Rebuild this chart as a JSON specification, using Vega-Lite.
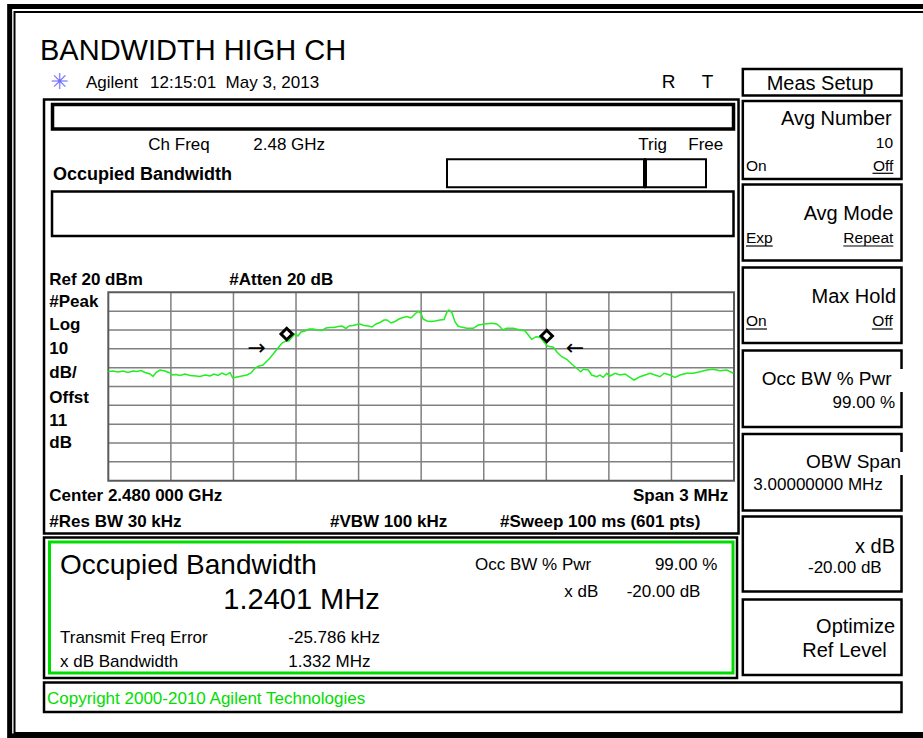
{
  "$schema": "https://vega.github.io/schema/vega-lite/v6.json",
  "width": 923,
  "height": 738,
  "autosize": {"type": "none"},
  "padding": 0,
  "background": "white",
  "config": {"view": {"stroke": null}, "text": {"font": "Liberation Sans", "baseline": "alphabetic", "fill": "black"}},
  "encoding": {
    "x": {"field": "x", "type": "quantitative", "scale": {"domain": [-2.0193, 2.4061], "nice": false, "zero": false}, "axis": null},
    "y": {"field": "y", "type": "quantitative", "scale": {"domain": [-216.57, 175.152], "nice": false, "zero": false}, "axis": null}
  },
  "layer": [
    {
      "data": {"values": [{"x": -1.973, "y": 171.7, "x2": 2.44, "y2": -215.51}]},
      "mark": {"type": "rect", "fill": "transparent", "stroke": "black", "strokeWidth": 5},
      "encoding": {"x2": {"field": "x2"}, "y2": {"field": "y2"}}
    },
    {
      "data": {"values": [{"x": -1.9497, "y": 168.78, "x2": 2.44, "y2": -213.92}]},
      "mark": {"type": "rect", "fill": "transparent", "stroke": "black", "strokeWidth": 2},
      "encoding": {"x2": {"field": "x2"}, "y2": {"field": "y2"}}
    },
    {
      "data": {"values": [
        {"x": -1.2, "x2": -1.2, "y": -80, "y2": 20},
        {"x": -0.9, "x2": -0.9, "y": -80, "y2": 20},
        {"x": -0.6, "x2": -0.6, "y": -80, "y2": 20},
        {"x": -0.3, "x2": -0.3, "y": -80, "y2": 20},
        {"x": 0, "x2": 0, "y": -80, "y2": 20},
        {"x": 0.3, "x2": 0.3, "y": -80, "y2": 20},
        {"x": 0.6, "x2": 0.6, "y": -80, "y2": 20},
        {"x": 0.9, "x2": 0.9, "y": -80, "y2": 20},
        {"x": 1.2, "x2": 1.2, "y": -80, "y2": 20},
        {"x": -1.5, "x2": 1.5, "y": 10, "y2": 10},
        {"x": -1.5, "x2": 1.5, "y": 0, "y2": 0},
        {"x": -1.5, "x2": 1.5, "y": -10, "y2": -10},
        {"x": -1.5, "x2": 1.5, "y": -20, "y2": -20},
        {"x": -1.5, "x2": 1.5, "y": -30, "y2": -30},
        {"x": -1.5, "x2": 1.5, "y": -40, "y2": -40},
        {"x": -1.5, "x2": 1.5, "y": -50, "y2": -50},
        {"x": -1.5, "x2": 1.5, "y": -60, "y2": -60},
        {"x": -1.5, "x2": 1.5, "y": -70, "y2": -70}
      ]},
      "mark": {"type": "rule", "stroke": "#808080", "strokeWidth": 1.5},
      "encoding": {"x2": {"field": "x2"}, "y2": {"field": "y2"}}
    },
    {
      "data": {"values": [{"x": -1.5, "y": 20, "x2": 1.5, "y2": -80}]},
      "mark": {"type": "rect", "fill": "transparent", "stroke": "#5a5a5a", "strokeWidth": 2},
      "encoding": {"x2": {"field": "x2"}, "y2": {"field": "y2"}}
    },
    {
      "data": {"values": [
        {"x": -1.5, "y": -22.04}, {"x": -1.4775, "y": -21.77}, {"x": -1.4535, "y": -22.3}, {"x": -1.4295, "y": -21.77},
        {"x": -1.4055, "y": -22.57}, {"x": -1.3816, "y": -21.77}, {"x": -1.3624, "y": -22.04}, {"x": -1.3432, "y": -21.51},
        {"x": -1.324, "y": -22.57}, {"x": -1.3001, "y": -23.36}, {"x": -1.2857, "y": -24.69}, {"x": -1.2713, "y": -22.57},
        {"x": -1.2521, "y": -21.24}, {"x": -1.2281, "y": -21.77}, {"x": -1.2042, "y": -22.83}, {"x": -1.1946, "y": -23.9},
        {"x": -1.1754, "y": -23.63}, {"x": -1.1562, "y": -24.16}, {"x": -1.1323, "y": -23.36}, {"x": -1.1083, "y": -24.16},
        {"x": -1.0795, "y": -24.42}, {"x": -1.0603, "y": -24.69}, {"x": -1.0364, "y": -23.9}, {"x": -1.0124, "y": -24.42},
        {"x": -0.9932, "y": -23.36}, {"x": -0.974, "y": -24.16}, {"x": -0.9549, "y": -22.83}, {"x": -0.9357, "y": -23.9},
        {"x": -0.9165, "y": -22.57}, {"x": -0.9036, "y": -25.49}, {"x": -0.8829, "y": -24.96}, {"x": -0.859, "y": -24.42},
        {"x": -0.835, "y": -23.9}, {"x": -0.8158, "y": -22.83}, {"x": -0.7966, "y": -20.18}, {"x": -0.7775, "y": -19.12},
        {"x": -0.7583, "y": -18.59}, {"x": -0.7439, "y": -16.99}, {"x": -0.7247, "y": -14.87}, {"x": -0.7055, "y": -12.22},
        {"x": -0.6864, "y": -9.56}, {"x": -0.6672, "y": -6.91}, {"x": -0.648, "y": -5.85}, {"x": -0.6336, "y": -5.85},
        {"x": -0.6192, "y": -3.72}, {"x": -0.6048, "y": -2.13}, {"x": -0.5905, "y": -3.19}, {"x": -0.5761, "y": -1.07},
        {"x": -0.5569, "y": -0.54}, {"x": -0.5377, "y": 0.52}, {"x": -0.5185, "y": 0.52}, {"x": -0.4946, "y": -0.01},
        {"x": -0.4754, "y": -0.27}, {"x": -0.4562, "y": 1.05}, {"x": -0.437, "y": 1.32}, {"x": -0.4179, "y": 1.32},
        {"x": -0.3987, "y": 1.85}, {"x": -0.3795, "y": 2.11}, {"x": -0.3603, "y": 0.79}, {"x": -0.3459, "y": 2.11},
        {"x": -0.3268, "y": 2.38}, {"x": -0.3076, "y": 2.91}, {"x": -0.2932, "y": 3.17}, {"x": -0.274, "y": 2.38},
        {"x": -0.2548, "y": 2.11}, {"x": -0.2357, "y": 1.58}, {"x": -0.2165, "y": 3.17}, {"x": -0.1973, "y": 3.97},
        {"x": -0.1781, "y": 5.3}, {"x": -0.1637, "y": 5.3}, {"x": -0.1446, "y": 3.7}, {"x": -0.1254, "y": 4.5},
        {"x": -0.1062, "y": 5.83}, {"x": -0.087, "y": 6.62}, {"x": -0.0678, "y": 7.15}, {"x": -0.0487, "y": 6.36},
        {"x": -0.0295, "y": 8.48}, {"x": -0.0151, "y": 9.81}, {"x": -0.0007, "y": 9.01}, {"x": 0.0089, "y": 5.83},
        {"x": 0.028, "y": 4.77}, {"x": 0.0472, "y": 4.5}, {"x": 0.0664, "y": 4.77}, {"x": 0.0904, "y": 5.3},
        {"x": 0.1096, "y": 5.56}, {"x": 0.1239, "y": 9.54}, {"x": 0.1335, "y": 10.61}, {"x": 0.1479, "y": 9.01},
        {"x": 0.1623, "y": 4.24}, {"x": 0.1767, "y": 2.11}, {"x": 0.1863, "y": 1.74}, {"x": 0.2184, "y": 0.89},
        {"x": 0.25, "y": 0.89}, {"x": 0.274, "y": 2.64}, {"x": 0.3061, "y": 3.17}, {"x": 0.3383, "y": 3.55},
        {"x": 0.3622, "y": 3.17}, {"x": 0.3781, "y": 1.74}, {"x": 0.391, "y": -0.01}, {"x": 0.4102, "y": 0.89},
        {"x": 0.4418, "y": 0.89}, {"x": 0.4739, "y": -0.01}, {"x": 0.4979, "y": -0.38}, {"x": 0.5137, "y": -2.66},
        {"x": 0.53, "y": -4.95}, {"x": 0.5507, "y": -3.57}, {"x": 0.5698, "y": -3.88}, {"x": 0.5938, "y": -7.07},
        {"x": 0.6048, "y": -8.5}, {"x": 0.6336, "y": -9.19}, {"x": 0.6499, "y": -11.53}, {"x": 0.6739, "y": -14.18},
        {"x": 0.6979, "y": -15.56}, {"x": 0.7218, "y": -18.06}, {"x": 0.7458, "y": -20.34}, {"x": 0.765, "y": -22.15},
        {"x": 0.7774, "y": -20.87}, {"x": 0.8014, "y": -21.24}, {"x": 0.8177, "y": -23.9}, {"x": 0.8417, "y": -24.8},
        {"x": 0.8575, "y": -23.9}, {"x": 0.8733, "y": -25.12}, {"x": 0.8896, "y": -22.99}, {"x": 0.9055, "y": -24.42},
        {"x": 0.9294, "y": -22.99}, {"x": 0.9534, "y": -23.9}, {"x": 0.9774, "y": -23.36}, {"x": 1.0014, "y": -25.12},
        {"x": 1.0205, "y": -26.55}, {"x": 1.0493, "y": -24.8}, {"x": 1.0733, "y": -23.9}, {"x": 1.0972, "y": -22.99},
        {"x": 1.1212, "y": -23.9}, {"x": 1.1452, "y": -24.8}, {"x": 1.1644, "y": -22.99}, {"x": 1.1931, "y": -23.9},
        {"x": 1.2171, "y": -25.12}, {"x": 1.2411, "y": -23.9}, {"x": 1.2732, "y": -22.99}, {"x": 1.3049, "y": -22.99},
        {"x": 1.337, "y": -22.15}, {"x": 1.3691, "y": -21.24}, {"x": 1.4007, "y": -20.87}, {"x": 1.4329, "y": -21.61},
        {"x": 1.465, "y": -21.24}, {"x": 1.497, "y": -22.99}
      ]},
      "mark": {"type": "line", "color": "#22ee22", "strokeWidth": 1.5}
    },
    {
      "data": {"values": [{"x": -0.6447, "y": -2.13}, {"x": 0.602, "y": -3.19}]},
      "mark": {"type": "point", "shape": "diamond", "filled": true, "fill": "white", "stroke": "black", "strokeWidth": 3, "size": 130, "opacity": 1}
    },
    {
      "data": {"values": [{"x": -0.7885, "y": -9.4, "t": "→"}, {"x": 0.7377, "y": -9.4, "t": "←"}]},
      "mark": {"type": "text", "font": "DejaVu Sans", "fontSize": 22, "baseline": "middle", "align": "center"},
      "encoding": {"text": {"field": "t"}}
    },
    {
      "data": {"values": [
        {"x": -1.8083, "y": 122.34, "x2": 1.5216, "y2": -108.02},
        {"x": -1.7699, "y": 73.51, "x2": 1.4976, "y2": 49.89},
        {"x": -1.8083, "y": -110.15, "x2": 1.5144, "y2": -184.72},
        {"x": -1.8083, "y": -187.11, "x2": 2.3031, "y2": -202.77},
        {"x": 1.5422, "y": 138.53, "x2": 2.3031, "y2": 124.46},
        {"x": 1.5422, "y": 121.54, "x2": 2.3031, "y2": 80.14},
        {"x": 1.5422, "y": 77.22, "x2": 2.3031, "y2": 36.88},
        {"x": 1.5422, "y": 33.17, "x2": 2.3031, "y2": -6.91},
        {"x": 1.5422, "y": -10.89, "x2": 2.3031, "y2": -51.5},
        {"x": 1.5422, "y": -55.21, "x2": 2.3031, "y2": -95.82},
        {"x": 1.5422, "y": -99.0, "x2": 2.3031, "y2": -138.81},
        {"x": 1.5422, "y": -143.06, "x2": 2.3031, "y2": -183.13}
      ]},
      "mark": {"type": "rect", "fill": "transparent", "stroke": "black", "strokeWidth": 2.5},
      "encoding": {"x2": {"field": "x2"}, "y2": {"field": "y2"}}
    },
    {
      "data": {"values": [{"x": -1.7675, "y": 119.68, "x2": 1.4976, "y2": 106.68}]},
      "mark": {"type": "rect", "fill": "transparent", "stroke": "black", "strokeWidth": 3.5},
      "encoding": {"x2": {"field": "x2"}, "y2": {"field": "y2"}}
    },
    {
      "data": {"values": [
        {"x": 0.1239, "y": 90.6, "x2": 1.0733, "y2": 75.74},
        {"x": 1.0733, "y": 90.6, "x2": 1.3657, "y2": 75.74}
      ]},
      "mark": {"type": "rect", "fill": "transparent", "stroke": "black", "strokeWidth": 2},
      "encoding": {"x2": {"field": "x2"}, "y2": {"field": "y2"}}
    },
    {
      "data": {"values": [{"x": 1.0733, "x2": 1.0733, "y": 90.6, "y2": 75.74}]},
      "mark": {"type": "rule", "stroke": "black", "strokeWidth": 4},
      "encoding": {"x2": {"field": "x2"}, "y2": {"field": "y2"}}
    },
    {
      "data": {"values": [{"x": -1.7819, "y": -112.54, "x2": 1.4952, "y2": -182.07}]},
      "mark": {"type": "rect", "fill": "transparent", "stroke": "#00dd00", "strokeWidth": 3},
      "encoding": {"x2": {"field": "x2"}, "y2": {"field": "y2"}}
    },
    {
      "data": {"values": [
        {"x": 2.164, "x2": 2.2638, "y": 83.17, "y2": 83.17},
        {"x": 1.5575, "x2": 1.6855, "y": 44.58, "y2": 44.58},
        {"x": 2.024, "x2": 2.2638, "y": 44.58, "y2": 44.58},
        {"x": 1.5575, "x2": 1.6582, "y": 0.52, "y2": 0.52},
        {"x": 2.1611, "x2": 2.2609, "y": 0.52, "y2": 0.52}
      ]},
      "mark": {"type": "rule", "stroke": "black", "strokeWidth": 1.2},
      "encoding": {"x2": {"field": "x2"}, "y2": {"field": "y2"}}
    },
    {
      "data": {"values": [
        {"x": 2.2935, "y": -20.71, "x2": 2.4061, "y2": -32.92},
        {"x": 2.2935, "y": -64.77, "x2": 2.4061, "y2": -76.97}
      ]},
      "mark": {"type": "rect", "fill": "white", "stroke": null},
      "encoding": {"x2": {"field": "x2"}, "y2": {"field": "y2"}}
    },
    {
      "data": {"values": [{"x": -1.7335, "y": 131.63, "t": "✳"}]},
      "mark": {"type": "text", "font": "DejaVu Sans", "fontSize": 22, "baseline": "middle", "align": "center", "fill": "#6f6fff"},
      "encoding": {"text": {"field": "t"}}
    },
    {
      "data": {"values": [{"x": -1.8275, "y": 143.3, "t": "BANDWIDTH HIGH CH"}]},
      "mark": {"type": "text", "fontSize": 29, "align": "left"},
      "encoding": {"text": {"field": "t"}}
    },
    {
      "data": {"values": [
        {"x": -1.6069, "y": 128.44, "t": "Agilent"},
        {"x": -1.3001, "y": 128.44, "t": "12:15:01\u00a0\u00a0May 3, 2013"},
        {"x": -1.3082, "y": 95.53, "t": "Ch Freq"},
        {"x": -0.8048, "y": 95.53, "t": "2.48 GHz"},
        {"x": 1.0412, "y": 95.53, "t": "Trig"},
        {"x": 1.2809, "y": 95.53, "t": "Free"},
        {"x": -1.7316, "y": -166.31, "t": "Transmit Freq Error"},
        {"x": -0.637, "y": -166.31, "t": "-25.786 kHz"},
        {"x": -1.7316, "y": -178.73, "t": "x dB Bandwidth"},
        {"x": -0.637, "y": -178.73, "t": "1.332 MHz"},
        {"x": 0.2582, "y": -127.4, "t": "Occ BW % Pwr"},
        {"x": 0.9855, "y": -141.57, "t": "-20.00 dB"},
        {"x": 1.5928, "y": -84.94, "t": "3.00000000 MHz"}
      ]},
      "mark": {"type": "text", "fontSize": 17, "align": "left"},
      "encoding": {"text": {"field": "t"}}
    },
    {
      "data": {"values": [
        {"x": 1.4199, "y": -127.4, "t": "99.00 %"},
        {"x": 0.8494, "y": -141.57, "t": "x dB"},
        {"x": 2.2719, "y": -41.57, "t": "99.00 %"},
        {"x": 2.2082, "y": -129.15, "t": "-20.00 dB"}
      ]},
      "mark": {"type": "text", "fontSize": 17, "align": "right"},
      "encoding": {"text": {"field": "t"}}
    },
    {
      "data": {"values": [{"x": 1.1533, "y": 128.44, "t": "R"}, {"x": 1.3451, "y": 128.44, "t": "T"}]},
      "mark": {"type": "text", "fontSize": 19, "align": "left"},
      "encoding": {"text": {"field": "t"}}
    },
    {
      "data": {"values": [{"x": 1.9123, "y": 127.38, "t": "Meas Setup"}]},
      "mark": {"type": "text", "fontSize": 20, "align": "center"},
      "encoding": {"text": {"field": "t"}}
    },
    {
      "data": {"values": [
        {"x": 2.2561, "y": 108.8, "t": "Avg Number"},
        {"x": 2.2638, "y": 58.38, "t": "Avg Mode"},
        {"x": 2.2767, "y": 14.16, "t": "Max Hold"},
        {"x": 2.2719, "y": -118.53, "t": "x dB"},
        {"x": 2.2719, "y": -161.0, "t": "Optimize"},
        {"x": 2.2321, "y": -173.42, "t": "Ref Level"}
      ]},
      "mark": {"type": "text", "fontSize": 20, "align": "right"},
      "encoding": {"text": {"field": "t"}}
    },
    {
      "data": {"values": [
        {"x": 1.6328, "y": -29.2, "t": "Occ BW % Pwr"},
        {"x": 1.8452, "y": -73.42, "t": "OBW Span"}
      ]},
      "mark": {"type": "text", "fontSize": 19, "align": "left"},
      "encoding": {"text": {"field": "t"}}
    },
    {
      "data": {"values": [
        {"x": 2.3093, "y": -20.71, "x2": 2.4061, "y2": -32.92},
        {"x": 2.3093, "y": -64.77, "x2": 2.4061, "y2": -76.97}
      ]},
      "mark": {"type": "rect", "fill": "white", "stroke": null},
      "encoding": {"x2": {"field": "x2"}, "y2": {"field": "y2"}}
    },
    {
      "data": {"values": [
        {"x": 1.5575, "y": 84.55, "t": "On"},
        {"x": 1.5575, "y": 46.01, "t": "Exp"},
        {"x": 1.5575, "y": 2.11, "t": "On"}
      ]},
      "mark": {"type": "text", "fontSize": 15.5, "align": "left"},
      "encoding": {"text": {"field": "t"}}
    },
    {
      "data": {"values": [
        {"x": 2.2623, "y": 96.44, "t": "10"},
        {"x": 2.2638, "y": 84.55, "t": "Off"},
        {"x": 2.2638, "y": 46.01, "t": "Repeat"},
        {"x": 2.2609, "y": 2.11, "t": "Off"}
      ]},
      "mark": {"type": "text", "fontSize": 15.5, "align": "right"},
      "encoding": {"text": {"field": "t"}}
    },
    {
      "data": {"values": [{"x": -1.7651, "y": 79.61, "t": "Occupied Bandwidth"}]},
      "mark": {"type": "text", "fontSize": 18, "fontWeight": "bold", "align": "left"},
      "encoding": {"text": {"field": "t"}}
    },
    {
      "data": {"values": [
        {"x": -1.7829, "y": 23.7, "t": "Ref 20 dBm"},
        {"x": -0.9199, "y": 23.7, "t": "#Atten 20 dB"},
        {"x": -1.7829, "y": 12.36, "t": "#Peak"},
        {"x": -1.7829, "y": -0.01, "t": "Log"},
        {"x": -1.7829, "y": -12.91, "t": "10"},
        {"x": -1.7829, "y": -25.65, "t": "dB/"},
        {"x": -1.7829, "y": -38.92, "t": "Offst"},
        {"x": -1.7829, "y": -50.81, "t": "11"},
        {"x": -1.7829, "y": -62.8, "t": "dB"},
        {"x": -1.7829, "y": -90.51, "t": "Center 2.480 000 GHz"},
        {"x": -1.7829, "y": -104.42, "t": "#Res BW 30 kHz"},
        {"x": -0.437, "y": -104.42, "t": "#VBW 100 kHz"},
        {"x": 0.3781, "y": -104.42, "t": "#Sweep 100 ms (601 pts)"}
      ]},
      "mark": {"type": "text", "fontSize": 17, "fontWeight": "bold", "align": "left"},
      "encoding": {"text": {"field": "t"}}
    },
    {
      "data": {"values": [{"x": 1.4727, "y": -90.51, "t": "Span 3 MHz"}]},
      "mark": {"type": "text", "fontSize": 17, "fontWeight": "bold", "align": "right"},
      "encoding": {"text": {"field": "t"}}
    },
    {
      "data": {"values": [{"x": -1.7316, "y": -129.52, "t": "Occupied Bandwidth"}]},
      "mark": {"type": "text", "fontSize": 28, "align": "left"},
      "encoding": {"text": {"field": "t"}}
    },
    {
      "data": {"values": [{"x": -0.9486, "y": -148.26, "t": "1.2401 MHz"}]},
      "mark": {"type": "text", "fontSize": 29, "align": "left"},
      "encoding": {"text": {"field": "t"}}
    },
    {
      "data": {"values": [{"x": -1.7939, "y": -198.52, "t": "Copyright 2000-2010 Agilent Technologies"}]},
      "mark": {"type": "text", "fontSize": 17, "align": "left", "fill": "#00dd00"},
      "encoding": {"text": {"field": "t"}}
    }
  ]
}
